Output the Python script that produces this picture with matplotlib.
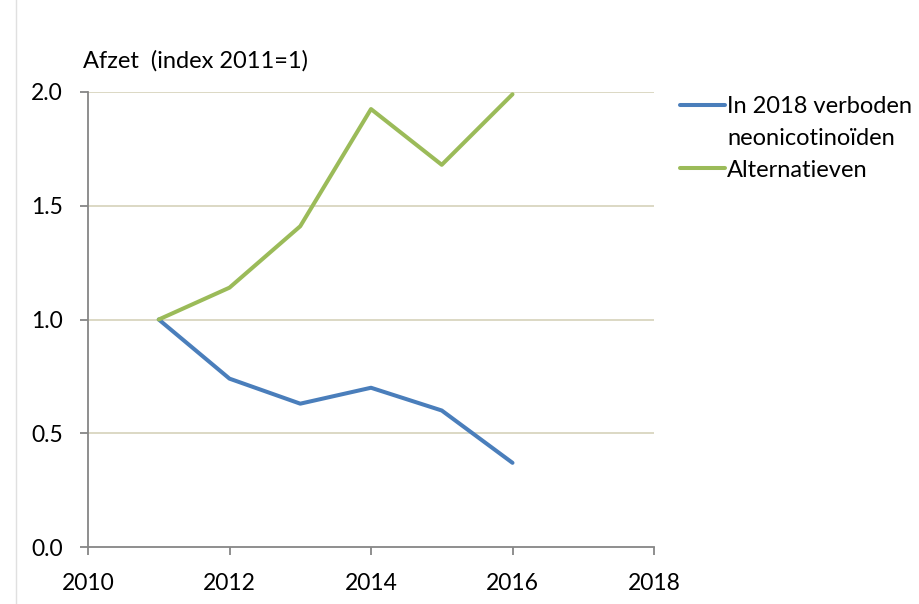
import matplotlib.pyplot as plt
import matplotlib.lines as mlines

years = [2011, 2012, 2013, 2014, 2015, 2016]
verboden = [1.0, 0.74, 0.63, 0.70, 0.60, 0.37]
alternatieven = [1.0, 1.14, 1.41, 1.925, 1.68, 1.99]
x_ticks = [2010, 2012, 2014, 2016, 2018]
y_ticks = [0.0, 0.5, 1.0, 1.5, 2.0]

plt.rcParams['font.family'] = ['Lato', 'DejaVu Sans']
plt.rcParams['font.size'] = 16

fig = plt.figure(figsize=(9.19, 6.04), dpi=100)
ax = fig.add_axes([88 / 919, 1 - 547 / 604, (654 - 88) / 919, (547 - 92) / 604])

for y in y_ticks[1:]:
    ax.axhline(y, color='#d9d5bf', lw=1.3, zorder=0)

blue, = ax.plot(years, verboden, color='#4a7ebb', lw=2.9,
                solid_capstyle='round', solid_joinstyle='round')
green, = ax.plot(years, alternatieven, color='#9bbb59', lw=2.9,
                 solid_capstyle='round', solid_joinstyle='round')

ax.set_xlim(2010, 2018)
ax.set_ylim(0, 2)
ax.set_xticks(x_ticks)
ax.set_yticks(y_ticks)
ax.set_yticklabels([f'{v:.1f}' for v in y_ticks])

for s in ['top', 'right']:
    ax.spines[s].set_visible(False)
for s in ['left', 'bottom']:
    ax.spines[s].set_color('#868686')
    ax.spines[s].set_linewidth(1.3)
ax.tick_params(axis='both', direction='out', length=6, width=1.3, color='#868686',
               labelcolor='black', labelsize=16.5)
ax.tick_params(axis='x', pad=13)
ax.tick_params(axis='y', pad=12)

fig.text(83 / 919, 1 - 61 / 604, 'Afzet  (index 2011=1)', ha='left', va='center', fontsize=17)

fig.add_artist(mlines.Line2D([16 / 919, 16 / 919], [0, 1], color='#e0e0e0', lw=1))

blank = mlines.Line2D([], [], color='none')
leg = ax.legend([blue, blank, green],
                ['In 2018 verboden', 'neonicotinoïden', 'Alternatieven'],
                loc='upper left', bbox_to_anchor=(680 / 919, 1 - 96 / 604),
                bbox_transform=fig.transFigure, frameon=False, fontsize=17,
                handlelength=1.9, handletextpad=0.1, labelspacing=0.46,
                borderaxespad=0, borderpad=0)

fig.savefig('out.png', dpi=100)
